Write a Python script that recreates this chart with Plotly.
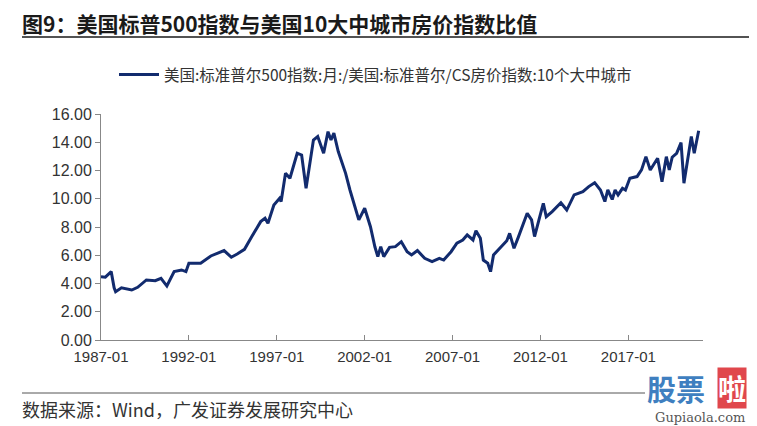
import plotly.graph_objects as go

dates = [
    "1987-01", "1987-04", "1987-08", "1987-10", "1987-11", "1988-03", "1988-10",
    "1989-02", "1989-08", "1990-02", "1990-06", "1990-10", "1991-03", "1991-08",
    "1991-11", "1992-01", "1992-09", "1993-04", "1994-01", "1994-06", "1994-10",
    "1995-03", "1995-08", "1996-02", "1996-05", "1996-07", "1996-11", "1997-03",
    "1997-04", "1997-07", "1997-10", "1998-03", "1998-06", "1998-09", "1999-02",
    "1999-05", "1999-09", "1999-12", "2000-02", "2000-04", "2000-07", "2000-12",
    "2001-03", "2001-09", "2002-01", "2002-05", "2002-08", "2002-10", "2002-12",
    "2003-02", "2003-06", "2003-10", "2004-02", "2004-06", "2004-09", "2005-01",
    "2005-06", "2005-11", "2006-04", "2006-07", "2006-12", "2007-04", "2007-08",
    "2007-11", "2008-03", "2008-05", "2008-08", "2008-10", "2009-01", "2009-03",
    "2009-05", "2009-10", "2010-02", "2010-04", "2010-07", "2010-10", "2011-04",
    "2011-07", "2011-09", "2011-12", "2012-03", "2012-05", "2012-09", "2013-03",
    "2013-07", "2013-12", "2014-06", "2014-10", "2015-02", "2015-06", "2015-09",
    "2015-11", "2016-02", "2016-04", "2016-06", "2016-09", "2016-11", "2017-02",
    "2017-07", "2017-10", "2018-01", "2018-04", "2018-09", "2018-12", "2019-03",
    "2019-05", "2019-07", "2019-10", "2020-01", "2020-03", "2020-06", "2020-08",
    "2020-10", "2021-01",
]
ratio = [
    4.48, 4.45, 4.84, 3.70, 3.42, 3.70, 3.54,
    3.73, 4.25, 4.20, 4.37, 3.82, 4.84, 4.96,
    4.84, 5.43, 5.43, 5.95, 6.33, 5.86, 6.09,
    6.42, 7.32, 8.38, 8.62, 8.26, 9.56, 10.03,
    9.80, 11.80, 11.45, 13.22, 13.10, 10.74, 14.16,
    14.40, 13.22, 14.75, 14.16, 14.64, 13.34, 11.80,
    10.62, 8.50, 9.33, 8.02, 6.60, 5.90, 6.61,
    5.90, 6.56, 6.61, 6.96, 6.25, 6.02, 6.33,
    5.78, 5.55, 5.78, 5.66, 6.25, 6.85, 7.08,
    7.44, 7.08, 7.74, 7.20, 5.66, 5.43, 4.84,
    6.02, 6.61, 7.03, 7.55, 6.49, 7.30, 8.97,
    8.50, 7.32, 8.50, 9.68, 8.73, 9.09, 9.72,
    9.20, 10.27, 10.50, 10.86, 11.14, 10.62, 9.80,
    10.62, 9.95, 10.62, 10.27, 10.74, 10.62, 11.45,
    11.57, 12.04, 12.98, 12.04, 12.87, 11.21, 12.98,
    12.04, 12.94, 13.22, 13.97, 11.10, 13.10, 14.40,
    13.22, 14.82,
]
series_name = "美国:标准普尔500指数:月:/美国:标准普尔/CS房价指数:10个大中城市"
y_ticks = [0, 2, 4, 6, 8, 10, 12, 14, 16]
x_tick_dates = ["1987-01", "1992-01", "1997-01", "2002-01", "2007-01", "2012-01", "2017-01"]

title_text = "图9：美国标普500指数与美国10大中城市房价指数比值"
source_text = "数据来源：Wind，广发证券发展研究中心"

FONT = "Liberation Sans, Arial, Noto Sans CJK SC, sans-serif"
CJK = "Noto Sans CJK SC, sans-serif"

# plot area in screen pixels (page has an 8px body offset)
PL, PR, PT, PB = 101, 703, 114, 340
OFF = 8
PW, PH = PR - PL, PB - PT


def px(x):
    return (x - PL) / PW


def py(y):
    return (PB - y) / PH


fig = go.Figure()
fig.add_trace(go.Scatter(
    x=[d + "-01" for d in dates], y=ratio, mode="lines",
    name=series_name,
    line=dict(color="#122b6e", width=3),
))

fig.update_layout(
    width=757, height=426,
    margin=dict(l=PL - OFF, r=757 - (PR - OFF), t=PT - OFF, b=426 - (PB - OFF), autoexpand=False),
    paper_bgcolor="white", plot_bgcolor="white",
    font=dict(family=FONT, size=13, color="#333333"),
    showlegend=True,
    legend=dict(
        orientation="h", x=px(114), xanchor="left", y=py(75), yanchor="middle",
        font=dict(family=CJK, size=15.5, color="#333333"),
        bgcolor="rgba(0,0,0,0)", itemwidth=40,
    ),
    xaxis=dict(
        type="date",
        range=["1987-01-01", "2021-04-01"],
        tickvals=[d + "-01" for d in x_tick_dates],
        ticktext=x_tick_dates,
        showgrid=False, zeroline=False,
        showline=True, linecolor="#888888", linewidth=1,
        ticks="inside", ticklen=5, tickcolor="#888888",
        ticklabelstandoff=3,
        tickfont=dict(family=FONT, size=15, color="#333333"),
    ),
    yaxis=dict(
        range=[0, 16],
        tickvals=y_ticks,
        ticktext=["%.2f" % v for v in y_ticks],
        showgrid=False, zeroline=False,
        showline=True, linecolor="#888888", linewidth=1,
        ticks="outside", ticklen=5, tickcolor="#888888",
        tickfont=dict(family=FONT, size=16, color="#333333"),
    ),
)

# Title and rules
fig.add_annotation(
    text="<b>" + title_text + "</b>", xref="paper", yref="paper",
    x=px(20), y=py(23), xanchor="left", yanchor="middle",
    showarrow=False, font=dict(family=CJK, size=21, color="#1a1a1a"),
)
fig.add_shape(type="line", xref="paper", yref="paper",
              x0=px(22), x1=px(750), y0=py(37), y1=py(37),
              line=dict(color="#1a1a1a", width=1.5))
fig.add_shape(type="line", xref="paper", yref="paper",
              x0=px(22), x1=px(645), y0=py(393), y1=py(393),
              line=dict(color="#555555", width=1))
fig.add_annotation(
    text=source_text, xref="paper", yref="paper",
    x=px(20), y=py(409), xanchor="left", yanchor="middle",
    showarrow=False, font=dict(family=CJK, size=18, color="#333333"),
)

# Watermark
fig.add_annotation(
    text="<b>股票</b>", xref="paper", yref="paper",
    x=px(676), y=py(388), xanchor="center", yanchor="middle",
    showarrow=False, font=dict(family=CJK, size=29, color="#3f7fc0"),
)
fig.add_annotation(
    text="<b>啦</b>", xref="paper", yref="paper",
    x=px(732), y=py(388), xanchor="center", yanchor="middle",
    showarrow=False, font=dict(family=CJK, size=28, color="white"),
    bgcolor="#e0474c", borderpad=0,
)
fig.add_annotation(
    text="Gupiaola.com", xref="paper", yref="paper",
    x=px(700), y=py(417), xanchor="center", yanchor="middle",
    showarrow=False, font=dict(family="DejaVu Serif, serif", size=13, color="#555555"),
)

fig.write_html("out.html")
